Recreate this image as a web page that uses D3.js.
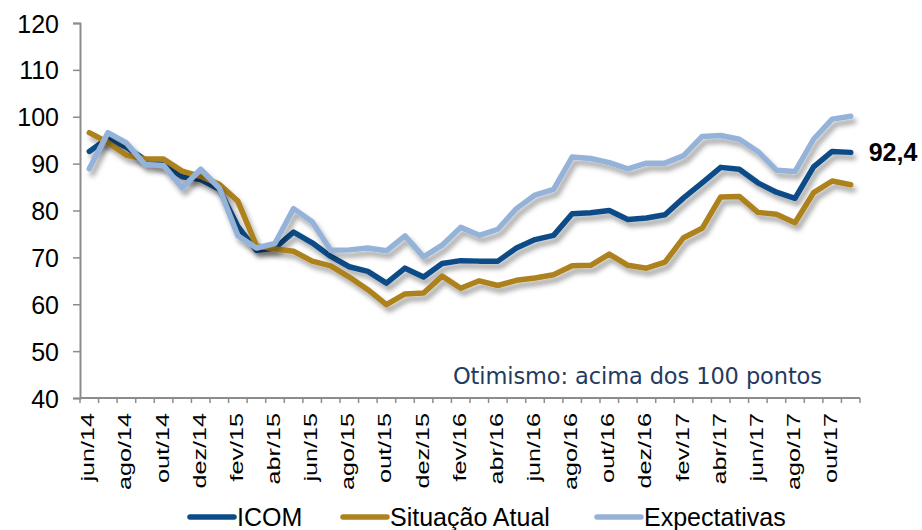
<!DOCTYPE html>
<html>
<head>
<meta charset="utf-8">
<script src="https://cdn.jsdelivr.net/npm/d3@7"></script>
<style>
  body { margin: 0; background: #fff; }
  text { font-family: "Liberation Sans", Arial, sans-serif; }
</style>
</head>
<body>
<div id="chart"></div>
<script>
// monthly categories jun/14 .. nov/17
var months = ["jun/14","jul/14","ago/14","set/14","out/14","nov/14","dez/14",
  "jan/15","fev/15","mar/15","abr/15","mai/15","jun/15","jul/15","ago/15","set/15","out/15","nov/15","dez/15",
  "jan/16","fev/16","mar/16","abr/16","mai/16","jun/16","jul/16","ago/16","set/16","out/16","nov/16","dez/16",
  "jan/17","fev/17","mar/17","abr/17","mai/17","jun/17","jul/17","ago/17","set/17","out/17","nov/17"];

var icom = [92.6, 95.4, 93.5, 90.8, 89.8, 87.2, 86.6,
  84.5, 76.6, 71.5, 72.0, 75.4, 73.1, 70.2, 68.0, 67.0, 64.5, 67.7, 65.8,
  68.7, 69.3, 69.2, 69.2, 72.0, 73.8, 74.7, 79.3, 79.5, 80.0, 78.1, 78.4,
  79.1, 82.7, 85.9, 89.2, 88.8, 85.9, 83.9, 82.6, 89.3, 92.6, 92.4];

var situacao = [96.6, 94.5, 91.8, 91.0, 91.0, 88.4, 87.3,
  85.6, 82.0, 72.5, 71.8, 71.3, 69.2, 68.2, 65.8, 63.1, 59.9, 62.2, 62.4,
  66.0, 63.4, 65.0, 64.0, 65.1, 65.6, 66.3, 68.2, 68.3, 70.7, 68.3, 67.7,
  69.0, 74.2, 76.2, 82.9, 83.0, 79.6, 79.2, 77.4, 83.8, 86.3, 85.5];

var expectativas = [88.9, 96.6, 94.4, 89.8, 89.6, 84.8, 88.8,
  84.8, 74.6, 72.0, 73.0, 80.4, 77.6, 71.5, 71.6, 72.0, 71.4, 74.6, 70.1,
  72.6, 76.4, 74.7, 76.0, 80.4, 83.3, 84.5, 91.4, 91.1, 90.2, 88.9, 90.1,
  90.1, 91.7, 95.8, 96.0, 95.2, 92.6, 88.6, 88.3, 95.2, 99.5, 100.1];

var yTicks = [40, 50, 60, 70, 80, 90, 100, 110, 120];

var series = [
  {name: "ICOM", values: icom, color: "#0b4c88"},
  {name: "Situação Atual", values: situacao, color: "#ad821f"},
  {name: "Expectativas", values: expectativas, color: "#95b3d8"}
];

var svgWidth = 922;
var svgHeight = 530;

var margin = {top: 23, right: 62, bottom: 132, left: 80};

var width = svgWidth - margin.left - margin.right;
var height = svgHeight - margin.top - margin.bottom;

var svg = d3.select("#chart")
  .append("svg")
  .attr("width", svgWidth)
  .attr("height", svgHeight);

// soft grey shadow under the lines
var defs = svg.append("defs");
var filter = defs.append("filter")
  .attr("id", "shadow")
  .attr("x", "-10%").attr("y", "-10%")
  .attr("width", "130%").attr("height", "140%");
filter.append("feDropShadow")
  .attr("dx", 3).attr("dy", 5)
  .attr("stdDeviation", 2.8)
  .attr("flood-color", "#000")
  .attr("flood-opacity", 0.35);

var chartGroup = svg.append("g")
  .attr("transform", `translate(${margin.left}, ${margin.top})`);

var xScale = d3.scaleBand()
  .domain(months)
  .range([0, width]);

var yScale = d3.scaleLinear()
  .domain([40, 120])
  .range([height, 0]);

// y axis
var leftAxis = d3.axisLeft(yScale)
  .tickValues(yTicks)
  .tickSize(7)
  .tickPadding(14);

var yAxis = chartGroup.append("g").call(leftAxis);
yAxis.select(".domain").attr("stroke", "#8c8c8c").attr("stroke-width", 2);
yAxis.selectAll(".tick line").attr("stroke", "#8c8c8c").attr("stroke-width", 1.5);
yAxis.selectAll(".tick text")
  .attr("font-size", "25px")
  .attr("dy", "0.36em")
  .attr("fill", "#000")
  .style("font-family", "Liberation Sans, Arial, sans-serif");

// x axis: tick marks on category boundaries, labels every 2 months
var xAxis = chartGroup.append("g")
  .attr("transform", `translate(0, ${height})`);

xAxis.append("line")
  .attr("x1", 0).attr("x2", width)
  .attr("y1", 0).attr("y2", 0)
  .attr("stroke", "#8c8c8c")
  .attr("stroke-width", 2);

xAxis.selectAll(".xtick")
  .data(months.concat(["end"]))
  .enter()
  .append("line")
  .attr("class", "xtick")
  .attr("x1", (d, i) => i * xScale.step())
  .attr("x2", (d, i) => i * xScale.step())
  .attr("y1", 0)
  .attr("y2", 5)
  .attr("stroke", "#8c8c8c")
  .attr("stroke-width", 1.5);

// labels are narrow across and long along the text, as in the source image
xAxis.selectAll(".xlabel")
  .data(months.filter((d, i) => i % 2 === 0))
  .enter()
  .append("text")
  .attr("class", "xlabel")
  .attr("transform", d => `translate(${xScale(d) + xScale.bandwidth() / 2 + 5}, 15) rotate(-90) scale(1.4, 1)`)
  .attr("text-anchor", "end")
  .attr("font-size", "18px")
  .attr("fill", "#000")
  .text(d => d);

// lines
var line = d3.line()
  .x((d, i) => xScale(months[i]) + xScale.bandwidth() / 2)
  .y(d => yScale(d));

chartGroup.selectAll(".series")
  .data(series)
  .enter()
  .append("path")
  .attr("class", "series")
  .attr("d", d => line(d.values))
  .attr("fill", "none")
  .attr("stroke", d => d.color)
  .attr("stroke-width", 5.5)
  .attr("stroke-linejoin", "round")
  .attr("stroke-linecap", "round")
  .attr("filter", "url(#shadow)");

// last value label
var lastIdx = months.length - 1;
chartGroup.append("text")
  .attr("x", xScale(months[lastIdx]) + xScale.bandwidth() / 2 + 18)
  .attr("y", yScale(icom[lastIdx]) + 9)
  .attr("font-size", "25px")
  .attr("font-weight", "bold")
  .attr("fill", "#000")
  .text("92,4");

// note
chartGroup.append("text")
  .attr("x", 373)
  .attr("y", 361)
  .attr("font-size", "22.5px")
  .attr("fill", "#243a5e")
  .style("font-family", "'DejaVu Sans', sans-serif")
  .attr("textLength", 369)
  .text("Otimismo: acima dos 100 pontos");

// legend
var legendItems = [
  {s: series[0], x: 190},
  {s: series[1], x: 343},
  {s: series[2], x: 597}
];

var legend = svg.append("g")
  .attr("transform", "translate(0, 517)");

legendItems.forEach(function(item) {
  legend.append("line")
    .attr("x1", item.x).attr("x2", item.x + 44)
    .attr("y1", 0).attr("y2", 0)
    .attr("stroke", item.s.color)
    .attr("stroke-width", 5.5)
    .attr("stroke-linecap", "round");
  legend.append("text")
    .attr("x", item.x + 47)
    .attr("y", 9)
    .attr("font-size", "25px")
    .attr("fill", "#000")
    .text(item.s.name);
});
</script>
</body>
</html>
